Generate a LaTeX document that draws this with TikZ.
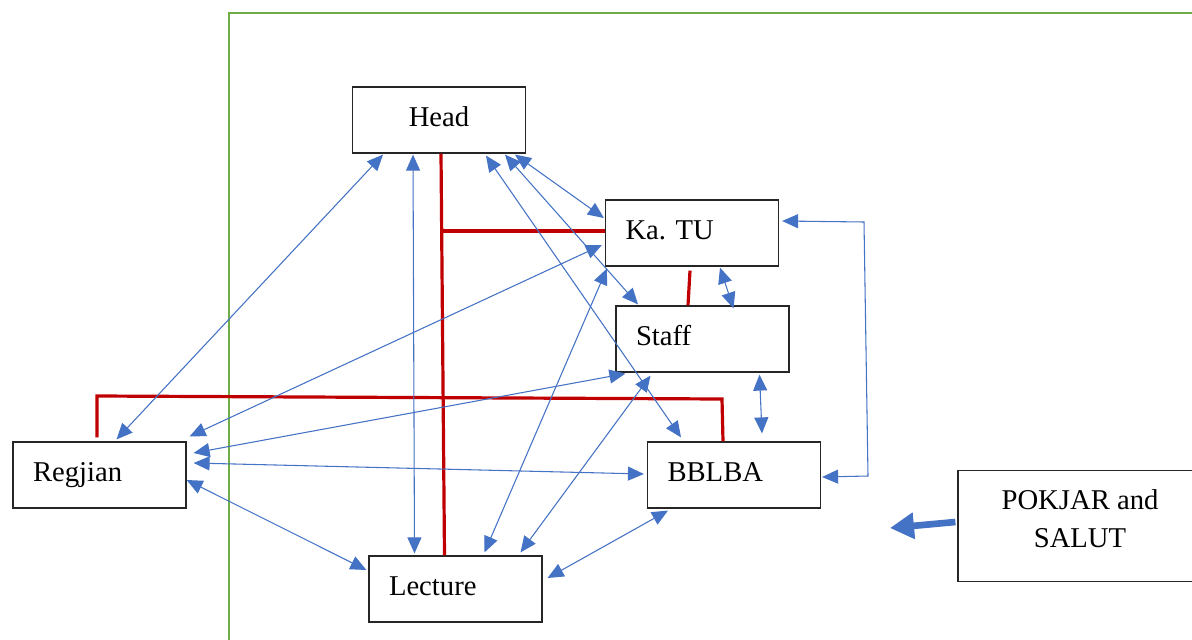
\documentclass[tikz,border=0pt]{standalone}
\usepackage{fontspec}
\setmainfont{Liberation Serif}
\usetikzlibrary{arrows.meta,calc}
\definecolor{ablue}{HTML}{4472C4}
\definecolor{ared}{HTML}{C00000}
\definecolor{agreen}{HTML}{70AD47}
\begin{document}
\begin{tikzpicture}[x=0.75pt,y=-0.75pt,
  box/.style={draw=black!85,line width=0.9pt,minimum height=49.5pt,inner xsep=15pt,text width=99.75pt,align=left,font=\fontsize{21.5}{25}\selectfont,text height=14pt,text depth=5pt},
  cbox/.style={box,align=center},
  conn/.style={draw=ablue,line width=0.8pt,{Triangle[length=12pt,width=10.5pt]}-{Triangle[length=12pt,width=10.5pt]}},
  org/.style={draw=ared,line width=2.4pt},
  frame/.style={draw=agreen,line width=1.6pt},
  bigarrow/.style={draw=ablue,line width=5pt,-{Triangle[length=18pt,width=19pt]}}
]
\useasboundingbox (0,0) rectangle (1192,639);

% green frame
\coordinate (g1) at (229,645);
\coordinate (g2) at (229,13);
\coordinate (g3) at (1200,13);
\draw[frame] (g1) -- (g2) -- (g3);

% boxes
\node[cbox] (head) at (439,120) {Head};
\node[box] (katu) at (692,233) {Ka.\ TU};
\node[box] (staff) at (702.5,339) {Staff};
\node[box] (regjian) at (99.5,475) {Regjian};
\node[box] (bblba) at (734,475) {BBLBA};
\node[box] (lecture) at (455.5,589) {Lecture};
\node[draw=black!85,line width=0.9pt,minimum width=183pt,minimum height=83.25pt] (pok) at (1080,526) {};
\node[align=center,font=\fontsize{21.5}{28.5}\selectfont] (poktext) at (1080,519) {POKJAR and\\SALUT};

% red organisational lines
\coordinate (rv) at (442,231);
\draw[org] ($(head.south)+(2,0)$) -- ($(lecture.north)+(-11,0)$);
\draw[org] (rv) -- ($(katu.west)+(0,-2)$);
\draw[org] ($(katu.south)+(-2,4)$) -- ($(staff.north)+(-14.5,0)$);
\coordinate (rl) at (97,396);
\coordinate (rr) at (722,399);
\draw[org] ($(regjian.north)+(-2.5,-4)$) -- (rl) -- (rr) -- ($(bblba.north)+(-11,0)$);

% blue connectors
\draw[conn] ($(head.south)+(-56,1)$) -- ($(regjian.north)+(17,-2)$);
\draw[conn] ($(head.south)+(-26,1)$) -- ($(lecture.north)+(-41,-2)$);
\draw[conn] ($(head.south)+(47,2)$) -- ($(bblba.north)+(-53,-4)$);
\draw[conn] ($(head.south)+(66,1)$) -- ($(staff.north)+(-64.5,-1)$);
\draw[conn] ($(head.south)+(76,1)$) -- ($(katu.west)+(-1,-15)$);
\draw[conn] ($(katu.west)+(-3,12)$) -- ($(regjian.north east)+(3,-5)$);
\draw[conn] ($(katu.south west)+(2,2)$) -- ($(lecture.north)+(29,-3)$);
\draw[conn] ($(katu.south)+(28,1)$) -- ($(staff.north)+(31,3)$);
\draw[conn] ($(staff.south west)+(10,1)$) -- ($(regjian.east)+(7,-22)$);
\draw[conn] ($(staff.south)+(-52,3)$) -- ($(lecture.north)+(65,-3)$);
\draw[conn] ($(staff.south)+(57,2)$) -- ($(bblba.north)+(28,-8)$);
\draw[conn] ($(regjian.east)+(7,-12)$) -- ($(bblba.west)+(-3,-1)$);
\draw[conn] ($(regjian.east)+(0,5)$) -- ($(lecture.west)+(-2,-19)$);
\draw[conn] ($(bblba.south)+(-66,2)$) -- ($(lecture.east)+(5,-11)$);
\coordinate (c1) at (864,222);
\coordinate (c2) at (868,476);
\draw[conn] ($(katu.east)+(3,-12)$) -- (c1) -- (c2) -- ($(bblba.east)+(1,2)$);

% thick arrow from POKJAR and SALUT
\coordinate (pk) at (890,528);
\draw[bigarrow] ($(pok.west)+(-2,-4)$) -- (pk);
\end{tikzpicture}
\end{document}
